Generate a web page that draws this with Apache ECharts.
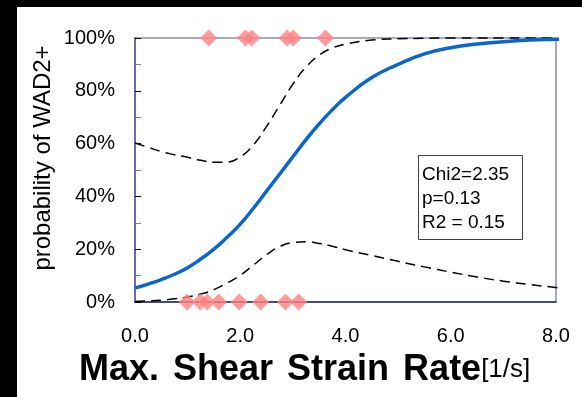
<!DOCTYPE html>
<html>
<head>
<meta charset="utf-8">
<script src="https://cdn.jsdelivr.net/npm/echarts@6/dist/echarts.min.js"></script>
<style>
  html, body { margin: 0; padding: 0; background: #000; }
  #chart { width: 582px; height: 397px; }
</style>
</head>
<body>
<div id="chart"></div>
<script>
// curve x positions (1/s)
const curveX = [0, 0.25, 0.5, 0.75, 1, 1.25, 1.5, 1.75, 2, 2.25, 2.5, 2.75, 3, 3.25, 3.5, 3.75, 4, 4.5, 5, 5.5, 6, 6.5, 7, 7.5, 8, 8.15];
// fitted probability (%)
const fitY = [5.3, 6.8, 8.5, 10.5, 13, 16.3, 20, 24.5, 29.5, 35.5, 42, 48.5, 55, 61.5, 67.5, 72.8, 77.5, 85, 90, 94, 96.3, 97.7, 98.6, 99.2, 99.5, 99.6];
// confidence bounds (%)
const upperY = [60.2, 58.6, 57, 55.8, 54.8, 53.7, 52.9, 53, 55, 59.5, 66.5, 74.5, 82.5, 89, 93.5, 96.2, 97.7, 99.2, 99.7, 99.9, 100, 100, 100, 100, 100, 100];
const lowerY = [0.2, 0.4, 0.7, 1.2, 1.9, 3, 4.7, 7.2, 10.1, 14, 17.9, 21, 22.5, 22.8, 22.2, 21.1, 19.8, 17.6, 15.4, 13.3, 11.3, 9.5, 7.9, 6.6, 5.5, 5.2];
// observed cases
const posX = [1.40, 2.10, 2.22, 2.89, 3.01, 3.62];
const negX = [0.99, 1.24, 1.37, 1.59, 1.98, 2.39, 2.86, 3.11];
const statsText = ['Chi2=2.35', 'p=0.13', 'R2 = 0.15'];

const FONT = 'Liberation Sans, Arial, sans-serif';
const pair = (xs, ys) => xs.map((x, i) => [x, ys[i]]);
const dashStyle = { color: '#000', width: 1.5, type: [10, 6] };

const chart = echarts.init(document.getElementById('chart'));
chart.setOption({
  backgroundColor: '#000',
  animation: false,
  textStyle: { fontFamily: FONT },
  grid: {
    left: 135, right: 26, top: 38, bottom: 95,
    show: true, borderColor: '#8c8cb8', borderWidth: 1.5, backgroundColor: '#fff',
  },
  title: {
    left: 79, top: 352, padding: 0,
    text: '{b|Max.}{s| }{b|Shear}{s| }{b|Strain}{s| }{b|Rate}{n|[1/s]}',
    textStyle: {
      rich: {
        b: { fontFamily: FONT, fontSize: 36, fontWeight: 'bold', color: '#000', lineHeight: 36 },
        s: { width: 14, fontSize: 10, lineHeight: 36 },
        n: { fontFamily: FONT, fontSize: 26, fontWeight: 'normal', color: '#000', lineHeight: 36 },
      },
    },
  },
  xAxis: {
    type: 'value', min: 0, max: 8, interval: 2,
    axisLine: { lineStyle: { color: '#2a2a6a', width: 1.5 } },
    axisTick: { show: false },
    splitLine: { show: false },
    axisLabel: { color: '#000', fontSize: 20, margin: 24, formatter: v => v.toFixed(1) },
  },
  yAxis: {
    type: 'value', min: 0, max: 100, interval: 20,
    axisLine: { show: true, lineStyle: { color: '#5a5a96', width: 1.5 } },
    axisTick: { show: true, inside: true, length: 6, lineStyle: { color: '#000' } },
    minorTick: { show: true, splitNumber: 2, length: 6, lineStyle: { color: '#808080' } },
    splitLine: { show: false },
    axisLabel: { color: '#000', fontSize: 20, margin: 20, formatter: '{value}%' },
  },
  graphic: [
    { type: 'rect', z: -10, shape: { x: 17, y: 7, width: 565, height: 390 }, style: { fill: '#fff' } },
    {
      type: 'text', x: 43, y: 158, rotation: Math.PI / 2,
      style: { text: 'probability of WAD2+', font: '24px ' + FONT, fill: '#000',
        align: 'center', verticalAlign: 'middle', textAlign: 'center', textVerticalAlign: 'middle' },
    },
    { type: 'rect', z: 10, shape: { x: 418.5, y: 155.5, width: 104, height: 84 }, style: { fill: '#fff', stroke: '#404040', lineWidth: 1 } },
    {
      type: 'text', z: 11, x: 422, y: 163,
      style: { text: statsText.join('\n'), font: '19px ' + FONT, fill: '#000', lineHeight: 24 },
    },
  ],
  series: [
    { type: 'line', data: pair(curveX, upperY), smooth: true, showSymbol: false, clip: false, lineStyle: dashStyle, z: 3 },
    { type: 'line', data: pair(curveX, lowerY), smooth: true, showSymbol: false, clip: false, lineStyle: dashStyle, z: 3 },
    { type: 'line', data: pair(curveX, fitY), smooth: true, showSymbol: false, clip: false, lineStyle: { color: '#0a66cc', width: 3.5 }, z: 4 },
    {
      type: 'scatter', symbol: 'diamond', symbolSize: 17, z: 6,
      itemStyle: { color: '#ff8282' },
      data: posX.map(x => [x, 100]).concat(negX.map(x => [x, 0])),
    },
  ],
});
</script>
</body>
</html>
